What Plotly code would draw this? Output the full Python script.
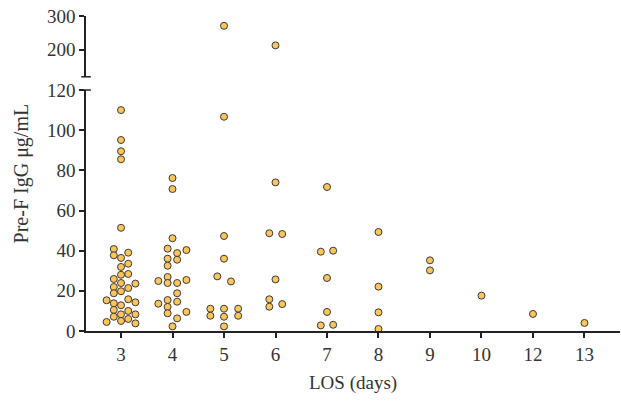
import plotly.graph_objects as go

# LOS categories (days) and tick labels
categories = [3, 4, 5, 6, 7, 8, 9, 10, 12, 13]
tick_labels = ["3", "4", "5", "6", "7", "8", "9", "10", "12", "13"]

# Pre-F IgG values (ug/mL) per LOS category, and horizontal jitter (fraction of category width)
los3_vals = [110, 95.1, 89.5, 85.5, 51.4, 40.8, 37.7, 36.4, 39.0, 33.5, 31.9, 28.0, 28.4,
             25.9, 23.9, 23.6, 21.9, 21.4, 19.8, 18.8, 15.3, 15.8, 13.8, 14.3, 12.8, 10.5,
             10.0, 8.3, 8.3, 7.1, 6.0, 4.5, 5.0, 3.8]
los3_jit = [0, 0, 0, 0, 0, -0.14, -0.14, 0, 0.14, 0.14, 0, 0, 0.14,
            -0.14, 0, 0.28, -0.14, 0.14, 0, -0.14, -0.28, 0.14, -0.14, 0.28, 0, -0.14,
            0.14, 0, 0.28, -0.14, 0.14, -0.28, 0, 0.28]

los4_vals = [76.2, 70.7, 46.2, 41.0, 38.8, 40.3, 36.0, 35.5, 32.5, 26.9, 24.9, 23.9, 23.9,
             25.4, 18.8, 15.4, 14.6, 13.6, 12.0, 8.8, 9.5, 6.3, 2.3]
los4_jit = [0, 0, 0, -0.095, 0.09, 0.27, -0.095, 0.09, -0.095, -0.095, -0.275, -0.095, 0.09,
            0.27, 0.09, -0.095, 0.09, -0.275, -0.095, -0.095, 0.27, 0.09, 0]

los5_vals = [271, 106.7, 47.3, 36.0, 27.2, 24.7, 11.1, 7.6, 11.1, 7.1, 2.3, 11.1, 7.6]
los5_jit = [0, 0, 0, 0, -0.13, 0.135, -0.265, -0.265, 0, 0, 0, 0.275, 0.275]

los6_vals = [213, 74.0, 48.7, 48.3, 25.7, 15.8, 12.1, 13.4]
los6_jit = [0, 0, -0.12, 0.13, 0, -0.12, -0.12, 0.13]

los7_vals = [71.7, 39.5, 40.0, 26.4, 9.5, 2.8, 3.1]
los7_jit = [0, -0.12, 0.12, 0, 0, -0.12, 0.12]

los8_vals = [49.3, 22.1, 9.3, 1.0]
los8_jit = [0, 0, 0, 0]

los9_vals = [35.2, 30.2]
los9_jit = [0, 0]

los10_vals = [17.6]
los10_jit = [0]

los12_vals = [8.5]
los12_jit = [0]

los13_vals = [4.0]
los13_jit = [0]

all_vals = [los3_vals, los4_vals, los5_vals, los6_vals, los7_vals,
            los8_vals, los9_vals, los10_vals, los12_vals, los13_vals]
all_jit = [los3_jit, los4_jit, los5_jit, los6_jit, los7_jit,
           los8_jit, los9_jit, los10_jit, los12_jit, los13_jit]

BREAK = 120

lo_x, lo_y, hi_x, hi_y = [], [], [], []
for i, (vals, jits) in enumerate(zip(all_vals, all_jit)):
    for v, j in zip(vals, jits):
        if v > BREAK:
            hi_x.append(i + j); hi_y.append(v)
        else:
            lo_x.append(i + j); lo_y.append(v)

marker = dict(size=7, color="#FBC55C", line=dict(color="#3A3A3A", width=1))
font_family = "Liberation Serif, Times New Roman, serif"
txt = "#333333"

fig = go.Figure()
fig.add_trace(go.Scatter(x=lo_x, y=lo_y, mode="markers", marker=marker,
                         yaxis="y", cliponaxis=False, showlegend=False))
fig.add_trace(go.Scatter(x=hi_x, y=hi_y, mode="markers", marker=marker,
                         yaxis="y2", cliponaxis=False, showlegend=False))

lo_top = 0.765
hi_bot = 0.807

axis_common = dict(showline=True, linecolor="#222222", linewidth=1.5, ticks="outside",
                   ticklen=5, tickwidth=1.5, tickcolor="#222222", showgrid=False,
                   zeroline=False, automargin=False,
                   tickfont=dict(family=font_family, size=19, color=txt))

fig.update_layout(
    width=621, height=403,
    margin=dict(l=86, r=1, t=16, b=72),
    plot_bgcolor="white", paper_bgcolor="white",
    xaxis=dict(range=[-0.68, 9.69], tickmode="array",
               tickvals=list(range(len(categories))), ticktext=tick_labels,
               **axis_common),
    yaxis=dict(domain=[0, lo_top], range=[0, 120], tickmode="linear", tick0=0, dtick=20,
               **axis_common),
    yaxis2=dict(domain=[hi_bot, 1], range=[120, 300], tickmode="array",
                tickvals=[200, 300], anchor="x", **axis_common),
    annotations=[
        dict(text="LOS (days)", xref="paper", yref="paper", x=0.5, y=-0.165,
             xanchor="center", yanchor="middle", showarrow=False,
             font=dict(family=font_family, size=19, color=txt)),
        dict(text="Pre-F IgG μg/mL", xref="paper", yref="paper", x=-0.12, y=0.5,
             xanchor="center", yanchor="middle", showarrow=False, textangle=-90,
             font=dict(family=font_family, size=20, color=txt)),
    ],
    shapes=[
        dict(type="line", xref="paper", yref="paper", x0=-0.009, x1=0.009,
             y0=lo_top, y1=lo_top, line=dict(color="#222222", width=1.5)),
        dict(type="line", xref="paper", yref="paper", x0=-0.009, x1=0.009,
             y0=hi_bot, y1=hi_bot, line=dict(color="#222222", width=1.5)),
    ],
)

fig.write_html("out.html", config={"displayModeBar": False},
               post_script="document.body.style.margin='0';")
